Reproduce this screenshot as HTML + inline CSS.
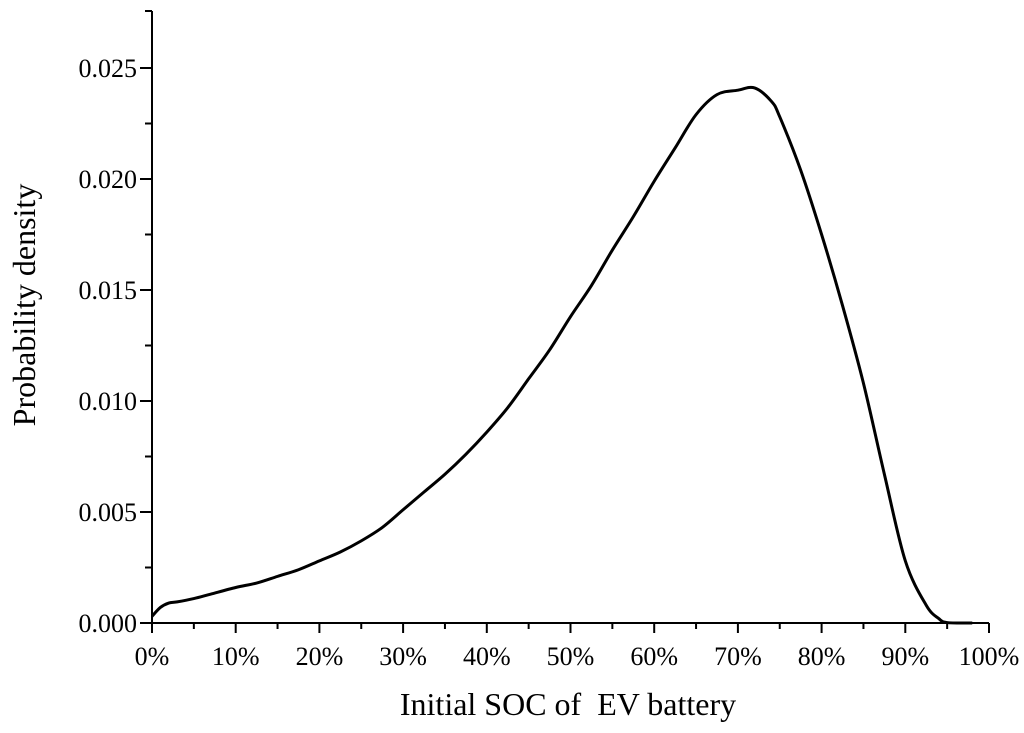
<!DOCTYPE html>
<html><head><meta charset="utf-8"><style>
html,body{margin:0;padding:0;background:#fff;}
svg{display:block;font-family:"Liberation Serif",serif;}
</style></head><body>
<svg id="chart" width="1024" height="733"></svg>
<script>
const xTicks=[0,10,20,30,40,50,60,70,80,90,100];
const yTicks=[0,0.005,0.010,0.015,0.020,0.025];
const yTickLabels=["0.000","0.005","0.010","0.015","0.020","0.025"];
const socValues=[0,1,2,3,5,7,10,12.5,15,17.5,20,22.5,25,27.5,30,32.5,35,37.5,40,42.5,45,47.5,50,52.5,55,57.5,60,62.5,65,67.5,70,72,74,75,77.5,80,82.5,85,87.5,90,92.5,94,95,98];
const densityValues=[0.0003,0.0007,0.0009,0.00095,0.0011,0.0013,0.0016,0.0018,0.0021,0.0024,0.0028,0.0032,0.0037,0.0043,0.0051,0.0059,0.0067,0.0076,0.0086,0.0097,0.0110,0.0123,0.0138,0.0152,0.0168,0.0183,0.0199,0.0214,0.0229,0.0238,0.0240,0.0241,0.0235,0.0228,0.0204,0.0175,0.0143,0.0108,0.0067,0.0028,0.0008,0.0002,0.00002,0];
const NS="http://www.w3.org/2000/svg";
const svg=document.getElementById('chart');
const X0=152,X1=989,Y0=623,YTOP=11;
const xs=v=>X0+(X1-X0)*v/100;
const ys=v=>Y0-v*22200;
function mk(t,a){const e=document.createElementNS(NS,t);for(const k in a)e.setAttribute(k,a[k]);svg.appendChild(e);return e;}
let e;
e=mk('line',{x1:X0,y1:YTOP,x2:X0,y2:Y0,stroke:'#000','stroke-width':2});


e=mk('line',{x1:X0,y1:Y0,x2:X1,y2:Y0,stroke:'#000','stroke-width':2});


e=mk('line',{x1:X0-7,y1:YTOP,x2:X0,y2:YTOP,stroke:'#000','stroke-width':2});


yTicks.forEach((v,i)=>{
  e=mk('line',{x1:X0-12,y1:ys(v),x2:X0,y2:ys(v),stroke:'#000','stroke-width':2});
  
  
  e=mk('text',{x:X0-15,y:ys(v)+9,'text-anchor':'end','font-size':26});
  e.textContent=yTickLabels[i];
  
  
  if(i<yTicks.length-1){
    const m=(v+yTicks[i+1])/2;
    e=mk('line',{x1:X0-7,y1:ys(m),x2:X0,y2:ys(m),stroke:'#000','stroke-width':2});
    
    
  }
});
xTicks.forEach((v,i)=>{
  e=mk('line',{x1:xs(v),y1:Y0,x2:xs(v),y2:Y0+10,stroke:'#000','stroke-width':2});
  
  
  e=mk('text',{x:xs(v),y:665,'text-anchor':'middle','font-size':26});
  e.textContent=v+'%';
  
  
  if(i<xTicks.length-1){
    const m=(v+xTicks[i+1])/2;
    e=mk('line',{x1:xs(m),y1:Y0,x2:xs(m),y2:Y0+6,stroke:'#000','stroke-width':2});
    
    
  }
});
let pts=socValues.map((s,i)=>[xs(s),ys(densityValues[i])]);
let d='M'+pts[0][0]+','+pts[0][1];
for(let i=0;i<pts.length-1;i++){
  const p0=pts[Math.max(0,i-1)],p1=pts[i],p2=pts[i+1],p3=pts[Math.min(pts.length-1,i+2)];
  const c1=[p1[0]+(p2[0]-p0[0])/6,p1[1]+(p2[1]-p0[1])/6];
  const c2=[p2[0]-(p3[0]-p1[0])/6,p2[1]-(p3[1]-p1[1])/6];
  d+=` C${c1[0]},${c1[1]} ${c2[0]},${c2[1]} ${p2[0]},${p2[1]}`;
}
e=mk('path',{d:d,fill:'none',stroke:'#000','stroke-width':3,'stroke-linejoin':'round'});


e=mk('text',{x:568,y:715,'text-anchor':'middle','font-size':32,'xml:space':'preserve'});
e.setAttribute('style','white-space:pre');
e.textContent='Initial SOC of  EV battery';


e=mk('text',{x:0,y:0,'text-anchor':'middle','font-size':32,transform:'translate(35,305) rotate(-90)'});
e.textContent='Probability density';


</script>
</body></html>
